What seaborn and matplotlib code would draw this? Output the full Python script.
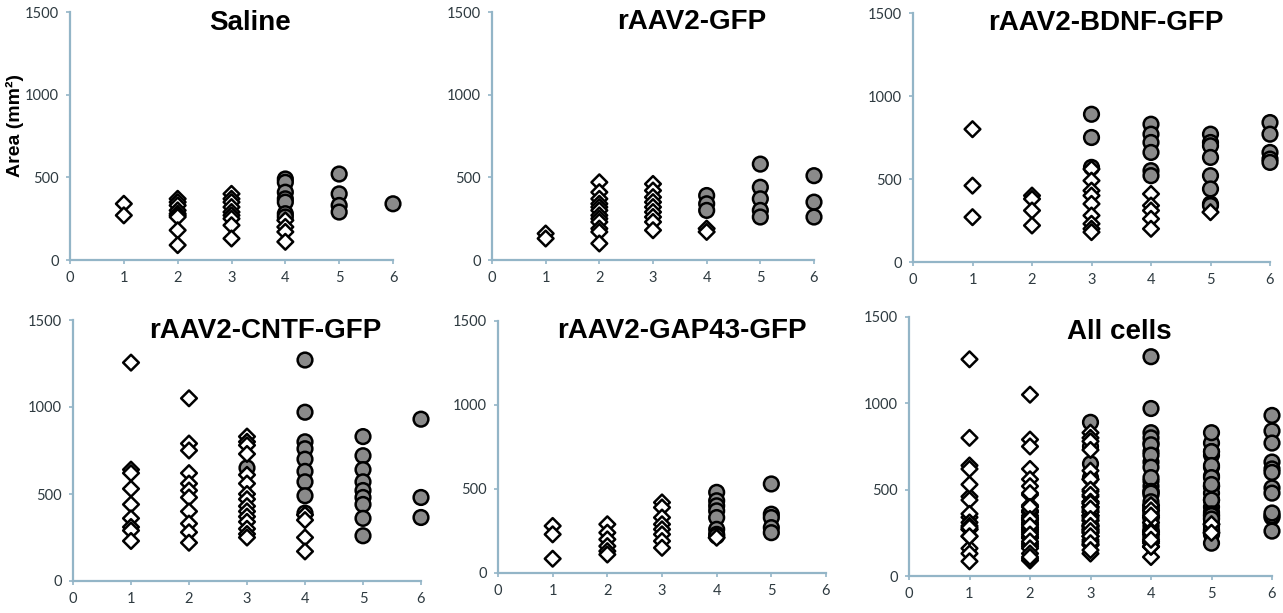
import numpy as np
import pandas as pd
import matplotlib
matplotlib.use("Agg")
import matplotlib.pyplot as plt
import seaborn as sns

# ---------------- data ----------------
panel_titles = ["Saline", "rAAV2-GFP", "rAAV2-BDNF-GFP",
                "rAAV2-CNTF-GFP", "rAAV2-GAP43-GFP", "All cells"]

saline_diamonds = {1: [340, 270],
                   2: [370, 350, 330, 300, 280, 270, 260, 180, 90],
                   3: [400, 370, 350, 320, 290, 270, 250, 210, 130],
                   4: [240, 200, 170, 110]}
saline_circles = {4: [490, 470, 410, 370, 350, 280, 260],
                  5: [520, 400, 330, 290],
                  6: [340]}

gfp_diamonds = {1: [160, 130],
                2: [470, 410, 370, 340, 320, 300, 270, 250, 230, 190, 170, 100],
                3: [460, 420, 380, 350, 320, 290, 260, 230, 180],
                4: [190, 170]}
gfp_circles = {4: [390, 340, 300],
               5: [580, 440, 370, 300, 260],
               6: [510, 350, 260]}

bdnf_diamonds = {1: [800, 460, 270],
                 2: [400, 380, 310, 220],
                 3: [560, 490, 430, 400, 350, 280, 230, 200, 180],
                 4: [410, 340, 310, 260, 200],
                 5: [300]}
bdnf_circles = {3: [890, 750, 570],
                4: [830, 770, 720, 660, 550, 520],
                5: [770, 720, 700, 630, 520, 440, 350, 340],
                6: [840, 770, 660, 620, 600]}

cntf_diamonds = {1: [1255, 640, 620, 530, 440, 360, 310, 290, 230],
                 2: [1050, 790, 750, 620, 560, 520, 480, 400, 330, 280, 220],
                 3: [830, 800, 780, 730, 610, 560, 500, 470, 430, 400, 370,
                     340, 300, 270, 250],
                 4: [380, 350, 250, 170]}
cntf_circles = {3: [650],
                4: [1270, 970, 800, 760, 700, 630, 570, 490, 390],
                5: [830, 720, 640, 570, 520, 480, 440, 360, 260],
                6: [930, 480, 365]}

gap43_diamonds = {1: [280, 230, 85],
                  2: [290, 240, 200, 160, 130, 110],
                  3: [420, 390, 330, 290, 260, 230, 190, 150],
                  4: [210]}
gap43_circles = {4: [480, 430, 400, 370, 330, 260, 230, 220],
                 5: [530, 350, 330, 270, 240]}

# points seen only in the "All cells" panel
all_extra_diamonds = {5: [250]}
all_extra_circles = {5: [190]}

x_ticks = [0, 1, 2, 3, 4, 5, 6]
y_ticks = [0, 500, 1000, 1500]


def to_rows(panel, d, kind):
    rows = []
    for xv, vals in d.items():
        for v in vals:
            rows.append({"panel": panel, "x": xv, "area": v, "kind": kind})
    return rows


groups = [(saline_diamonds, saline_circles), (gfp_diamonds, gfp_circles),
          (bdnf_diamonds, bdnf_circles), (cntf_diamonds, cntf_circles),
          (gap43_diamonds, gap43_circles)]

rows = []
for title, (dd, cc) in zip(panel_titles[:5], groups):
    rows += to_rows(title, cc, "circle")
    rows += to_rows(title, dd, "diamond")
# All cells = union of the groups plus the extra points
all_rows = []
for dd, cc in groups:
    all_rows += to_rows("All cells", cc, "circle")
all_rows += to_rows("All cells", all_extra_circles, "circle")
for dd, cc in groups:
    all_rows += to_rows("All cells", dd, "diamond")
all_rows += to_rows("All cells", all_extra_diamonds, "diamond")
df = pd.DataFrame(rows + all_rows)

# ---------------- figure ----------------
sns.set_theme(style="white")
plt.rcParams["font.family"] = ["Liberation Sans", "DejaVu Sans"]

W, H = 1283, 613
fig = plt.figure(figsize=(W / 100, H / 100), dpi=100)

# axes boxes in pixels: left, right, top, bottom
boxes = [(70, 393, 12, 260), (492, 814, 12, 260), (913, 1270, 13, 262),
         (73, 421, 320, 581), (498, 826, 321, 573), (909, 1272, 317, 576)]
title_pos = [(0.557, 1.010), (0.621, 1.012), (0.541, 1.012),
             (0.552, 1.008), (0.561, 1.012), (0.579, 0.993)]

spine_col = "#93b5c7"
tick_lab_col = "#2e3a40"

for i, (title, (l, r, t, b)) in enumerate(zip(panel_titles, boxes)):
    ax = fig.add_axes([l / W, 1 - b / H, (r - l) / W, (b - t) / H])
    sub = df[df["panel"] == title]
    sns.scatterplot(data=sub, x="x", y="area", hue="kind", style="kind",
                    size="kind",
                    palette={"circle": "#8a8a8a", "diamond": "white"},
                    markers={"circle": "o", "diamond": "D"},
                    sizes={"circle": 112, "diamond": 64},
                    edgecolor="black", linewidth=1.8, legend=False,
                    clip_on=False, zorder=3, ax=ax)
    ax.set_xlim(0, 6)
    ax.set_ylim(0, 1500)
    ax.set_xticks(x_ticks)
    ax.set_yticks(y_ticks)
    ax.set_xlabel("")
    ax.set_ylabel("")
    for s in ["top", "right"]:
        ax.spines[s].set_visible(False)
    for s in ["left", "bottom"]:
        ax.spines[s].set_color(spine_col)
        ax.spines[s].set_linewidth(1.6)
    ax.tick_params(axis="both", direction="out", length=3, width=1.2,
                   color=spine_col, labelcolor=tick_lab_col, pad=5,
                   labelsize=10.5, bottom=True, left=True)
    for lab in ax.get_xticklabels() + ax.get_yticklabels():
        lab.set_fontfamily(["Lato", "DejaVu Sans"])
    tx, ty = title_pos[i]
    ax.text(tx, ty, title, transform=ax.transAxes, ha="center", va="top",
            fontsize=20, fontweight="bold", color="black")
    ax.set_facecolor("white")

fig.text(15 / W, 1 - 126 / H, "Area (mm²)", rotation=90, ha="center",
         va="center", fontsize=14, fontweight="bold", color="black")

fig.savefig("out.png", dpi=100, facecolor="white")
